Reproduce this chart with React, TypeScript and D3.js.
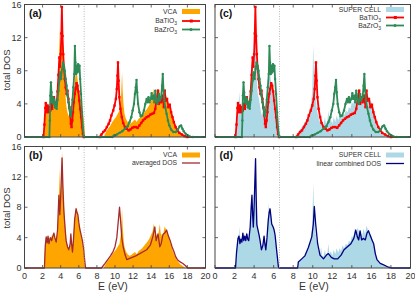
import * as d3 from "d3";

type Pt = [number, number];

// energy (eV), total DOS pairs
const vcaDos: Pt[] = [
  [0, 0], [2.15, 0], [2.25, 2.5], [2.35, 4.0], [2.5, 3.4], [2.6, 4.2], [2.7, 3.3], [2.8, 4.0], [2.9, 3.6],
  [3.0, 4.3], [3.1, 3.9], [3.25, 4.7], [3.35, 4.2], [3.5, 3.5], [3.6, 4.5], [3.7, 6.5], [3.8, 9.0],
  [3.88, 13.3], [3.95, 8.5], [4.05, 11.0], [4.15, 15.5], [4.22, 12.0], [4.3, 9.5], [4.4, 7.5], [4.5, 5.5],
  [4.6, 4.0], [4.7, 3.2], [4.85, 2.6], [5.0, 2.4], [5.1, 4.0], [5.2, 3.0], [5.3, 2.4], [5.4, 4.0],
  [5.5, 6.0], [5.6, 7.2], [5.7, 8.0], [5.8, 7.6], [5.9, 6.6], [6.0, 5.8], [6.1, 5.2], [6.2, 4.6],
  [6.3, 4.0], [6.4, 3.4], [6.5, 2.6], [6.6, 1.6], [6.7, 0],
  [8.75, 0], [8.9, 0.4], [9.1, 0.8], [9.3, 1.1], [9.5, 1.4], [9.7, 1.8], [9.9, 2.1], [10.1, 2.4],
  [10.3, 2.8], [10.5, 3.2], [10.65, 4.5], [10.78, 7.8], [10.85, 5.5], [10.95, 3.8], [11.05, 2.8],
  [11.2, 2.2], [11.4, 1.8], [11.6, 1.6], [11.8, 1.7], [12.0, 1.9], [12.2, 2.1], [12.4, 1.8], [12.6, 2.2],
  [12.8, 2.4], [13.0, 2.6], [13.2, 2.9], [13.4, 3.2], [13.6, 3.5], [13.8, 3.9], [14.0, 4.4], [14.15, 4.8],
  [14.3, 5.9], [14.4, 4.2], [14.5, 4.8], [14.65, 3.8], [14.8, 4.5], [14.95, 5.8], [15.05, 4.6],
  [15.2, 4.2], [15.35, 4.6], [15.5, 5.5], [15.65, 5.0], [15.8, 4.5], [15.95, 4.0], [16.1, 3.4],
  [16.25, 2.8], [16.4, 2.2], [16.6, 1.6], [16.8, 1.1], [17.0, 0.8], [17.2, 0.5], [17.5, 0.25],
  [17.8, 0], [20, 0],
];

const batio3Dos: Pt[] = [
  [0, 0], [2.1, 0], [2.2, 1.5], [2.3, 3.5], [2.35, 4.1], [2.45, 3.0], [2.55, 3.8], [2.65, 3.0],
  [2.75, 3.6], [2.85, 3.2], [2.95, 4.0], [3.05, 3.4], [3.15, 4.2], [3.25, 4.8], [3.35, 4.2], [3.45, 3.6],
  [3.55, 3.9], [3.65, 5.5], [3.75, 7.5], [3.85, 9.6], [3.92, 8.5], [4.0, 10.0], [4.07, 12.5],
  [4.13, 15.7], [4.2, 12.2], [4.28, 10.0], [4.36, 8.4], [4.45, 7.0], [4.55, 6.0], [4.65, 5.2],
  [4.75, 5.6], [4.85, 4.6], [4.95, 3.6], [5.05, 2.6], [5.12, 1.6], [5.2, 1.2], [5.28, 2.0], [5.36, 3.0],
  [5.45, 4.2], [5.55, 5.2], [5.65, 5.8], [5.75, 6.5], [5.85, 6.2], [5.95, 5.5], [6.05, 4.4],
  [6.15, 3.4], [6.25, 2.4], [6.35, 1.2], [6.45, 0.4], [6.55, 0],
  [8.3, 0], [8.5, 0.3], [8.7, 0.6], [8.9, 0.8], [9.1, 1.2], [9.3, 1.6], [9.45, 2.0], [9.6, 2.6],
  [9.8, 3.2], [9.95, 3.8], [10.1, 4.6], [10.2, 5.8], [10.27, 7.4], [10.33, 9.0], [10.4, 6.8],
  [10.48, 4.8], [10.6, 3.4], [10.75, 2.4], [10.9, 1.7], [11.1, 1.2], [11.3, 1.0], [11.5, 0.8],
  [11.7, 0.9], [11.9, 1.1], [12.1, 1.2], [12.3, 1.2], [12.5, 1.1], [12.7, 1.4], [12.9, 1.7], [13.1, 2.0],
  [13.3, 2.2], [13.5, 2.4], [13.7, 2.5], [13.9, 2.7], [14.1, 2.8], [14.3, 2.9], [14.45, 3.4],
  [14.6, 4.6], [14.75, 5.6], [14.85, 4.0], [14.95, 4.8], [15.1, 4.2], [15.25, 5.0], [15.4, 3.6],
  [15.5, 5.6], [15.6, 4.4], [15.75, 4.6], [15.9, 3.6], [16.05, 3.9], [16.2, 3.0], [16.35, 2.4],
  [16.5, 1.8], [16.7, 1.2], [16.9, 0.8], [17.1, 0.5], [17.4, 0.3], [17.7, 0.1], [18.0, 0], [20, 0],
];

const bazro3Dos: Pt[] = [
  [0, 0], [2.75, 0], [2.8, 2.0], [2.85, 5.0], [2.92, 6.6], [2.98, 5.4], [3.05, 4.2], [3.12, 4.8],
  [3.2, 4.0], [3.28, 4.6], [3.36, 3.6], [3.45, 4.2], [3.55, 3.4], [3.65, 4.5], [3.75, 5.6], [3.85, 6.8],
  [3.95, 7.8], [4.05, 7.0], [4.15, 8.2], [4.25, 9.0], [4.35, 8.6], [4.45, 8.0], [4.55, 7.0], [4.65, 6.2],
  [4.75, 5.0], [4.85, 4.2], [4.95, 3.5], [5.05, 2.8], [5.12, 2.5], [5.2, 3.2], [5.3, 4.5], [5.4, 6.0],
  [5.5, 7.6], [5.57, 11.0], [5.63, 9.0], [5.7, 7.6], [5.78, 8.6], [5.85, 7.8], [5.93, 8.8], [6.0, 8.0],
  [6.08, 8.6], [6.15, 7.0], [6.25, 5.2], [6.35, 3.0], [6.45, 1.2], [6.55, 0.2], [6.6, 0],
  [9.7, 0], [9.9, 0.2], [10.2, 0.3], [10.5, 0.5], [10.8, 0.7], [11.1, 1.0], [11.4, 1.3], [11.6, 1.8],
  [11.8, 2.4], [11.95, 3.2], [12.1, 4.0], [12.2, 5.2], [12.3, 6.0], [12.38, 6.9], [12.45, 5.4],
  [12.55, 4.0], [12.7, 3.0], [12.85, 2.5], [13.0, 2.6], [13.2, 3.2], [13.35, 4.0], [13.5, 4.6],
  [13.6, 4.2], [13.7, 4.8], [13.8, 4.2], [13.95, 4.6], [14.05, 5.3], [14.15, 4.6], [14.25, 5.0],
  [14.35, 4.2], [14.45, 5.6], [14.55, 4.6], [14.7, 4.0], [14.85, 5.2], [14.95, 4.4], [15.1, 4.8],
  [15.2, 6.2], [15.28, 7.6], [15.36, 5.6], [15.45, 4.4], [15.55, 3.6], [15.7, 2.8], [15.85, 2.0],
  [16.0, 1.4], [16.2, 0.9], [16.45, 0.6], [16.7, 0.6], [16.95, 0.9], [17.15, 1.3], [17.3, 1.4],
  [17.45, 1.0], [17.6, 0.7], [17.8, 0.4], [18.05, 0.2], [18.3, 0.05], [18.6, 0], [20, 0],
];

const averagedDos: Pt[] = [
  [0, 0], [2.2, 0], [2.3, 3.0], [2.4, 4.1], [2.5, 3.3], [2.6, 4.2], [2.7, 3.2], [2.85, 4.0], [3.0, 3.6],
  [3.1, 4.1], [3.25, 4.6], [3.35, 4.0], [3.5, 3.4], [3.65, 5.0], [3.8, 9.6], [3.9, 7.0], [4.0, 9.5],
  [4.15, 14.5], [4.25, 10.5], [4.35, 7.5], [4.5, 5.0], [4.6, 3.6], [4.75, 2.8], [4.9, 2.4], [5.05, 3.2],
  [5.12, 4.5], [5.22, 3.0], [5.3, 2.1], [5.4, 3.5], [5.55, 6.5], [5.7, 7.8], [5.8, 7.3], [5.9, 7.0],
  [6.0, 6.0], [6.1, 5.2], [6.25, 4.4], [6.4, 3.6], [6.55, 2.4], [6.65, 1.0], [6.75, 0],
  [8.5, 0], [8.7, 0.3], [8.9, 0.6], [9.2, 1.1], [9.5, 1.6], [9.8, 2.2], [10.0, 2.8], [10.2, 4.0],
  [10.35, 6.0], [10.5, 8.0], [10.6, 6.5], [10.75, 4.0], [10.9, 2.8], [11.1, 1.8], [11.3, 1.1],
  [12.3, 1.6], [13.5, 2.4], [13.9, 3.0], [14.2, 4.2], [14.4, 5.4], [14.55, 3.6], [14.75, 4.5],
  [14.95, 2.8], [15.1, 3.2], [15.3, 4.4], [15.5, 4.6], [15.7, 5.0], [15.9, 4.2], [16.1, 3.6],
  [16.3, 2.8], [16.5, 2.2], [16.7, 1.5], [16.9, 1.1], [17.2, 0.8], [17.5, 0.6], [17.8, 0.3],
  [18.0, 0], [20, 0],
];

const superCellDos: Pt[] = [
  [0, 0], [2.1, 0], [2.2, 2.0], [2.3, 3.5], [2.4, 3.8], [2.5, 5.5], [2.55, 3.6], [2.65, 4.2],
  [2.75, 3.4], [2.85, 4.4], [2.95, 3.8], [3.05, 4.6], [3.15, 3.6], [3.25, 4.8], [3.35, 4.0],
  [3.45, 3.6], [3.55, 4.6], [3.65, 6.0], [3.72, 9.2], [3.8, 8.0], [3.88, 6.0], [3.95, 7.5],
  [4.05, 10.5], [4.13, 14.0], [4.2, 10.0], [4.28, 7.0], [4.38, 5.2], [4.5, 4.6], [4.6, 3.8],
  [4.7, 3.0], [4.8, 2.6], [4.9, 3.2], [5.0, 4.2], [5.1, 3.0], [5.2, 2.6], [5.3, 3.5], [5.4, 5.5],
  [5.5, 8.6], [5.58, 7.0], [5.65, 7.6], [5.75, 6.4], [5.85, 5.8], [5.95, 5.4], [6.05, 4.8],
  [6.15, 4.0], [6.25, 3.0], [6.35, 2.0], [6.45, 0.8], [6.55, 0],
  [8.45, 0], [8.55, 0.6], [8.8, 1.1], [9.0, 1.4], [9.2, 1.8], [9.4, 2.2], [9.6, 2.8], [9.8, 3.8],
  [9.95, 5.5], [10.05, 11.2], [10.12, 8.0], [10.2, 6.5], [10.3, 4.5], [10.45, 3.2], [10.6, 2.2],
  [10.75, 1.8], [10.85, 2.8], [10.95, 1.6], [11.1, 1.5], [11.25, 2.4], [11.35, 1.6], [11.5, 2.0],
  [11.6, 3.2], [11.7, 1.8], [11.85, 2.2], [12.0, 1.6], [12.15, 2.4], [12.3, 1.8], [12.45, 2.6],
  [12.6, 2.0], [12.75, 2.6], [12.9, 2.2], [13.05, 3.0], [13.2, 2.6], [13.4, 3.2], [13.55, 3.0],
  [13.7, 3.6], [13.85, 3.4], [14.0, 4.2], [14.15, 4.0], [14.3, 5.2], [14.45, 4.4], [14.6, 5.4],
  [14.75, 4.6], [14.9, 5.0], [15.05, 4.2], [15.2, 5.2], [15.35, 4.4], [15.5, 5.6], [15.65, 5.0],
  [15.8, 4.6], [15.95, 4.4], [16.1, 3.8], [16.25, 3.2], [16.4, 2.2], [16.55, 1.2], [16.75, 0.7],
  [17.0, 0.45], [17.3, 0.25], [17.6, 0.1], [17.9, 0], [20, 0],
];

const linearCombinedDos: Pt[] = [
  [0, 0], [2.1, 0], [2.2, 2.0], [2.35, 3.9], [2.45, 4.2], [2.55, 3.2], [2.65, 3.8], [2.75, 3.4],
  [2.85, 4.6], [2.95, 3.6], [3.05, 4.2], [3.15, 3.6], [3.25, 4.5], [3.35, 3.8], [3.45, 3.6], [3.6, 5.4],
  [3.7, 8.0], [3.78, 9.6], [3.85, 7.0], [3.92, 5.4], [4.0, 8.0], [4.08, 11.5], [4.15, 14.4], [4.22, 9.0],
  [4.28, 5.7], [4.4, 5.0], [4.5, 4.4], [4.6, 3.7], [4.75, 2.4], [4.9, 3.0], [5.02, 4.2], [5.1, 3.2],
  [5.2, 2.4], [5.32, 4.0], [5.45, 6.3], [5.55, 7.4], [5.63, 7.8], [5.72, 6.8], [5.8, 5.8], [5.95, 5.4],
  [6.05, 5.0], [6.15, 4.3], [6.3, 2.4], [6.4, 1.2], [6.48, 0.2], [6.55, 0],
  [8.45, 0], [8.53, 0.8], [8.87, 1.2], [9.2, 1.6], [9.55, 2.7], [9.9, 4.1], [10.06, 5.8], [10.16, 8.1],
  [10.3, 5.8], [10.5, 3.2], [10.74, 1.7], [11.1, 1.2], [11.4, 1.7], [11.6, 1.9], [11.9, 1.4],
  [12.2, 1.2], [12.55, 1.2], [12.9, 1.7], [13.2, 2.4], [13.55, 2.8], [13.9, 3.2], [14.2, 3.9],
  [14.4, 5.0], [14.56, 4.1], [14.7, 3.7], [14.84, 4.9], [15.0, 3.7], [15.2, 3.9], [15.38, 3.7],
  [15.55, 4.6], [15.7, 4.9], [15.9, 4.2], [16.06, 3.7], [16.23, 3.2], [16.4, 1.9], [16.57, 1.1],
  [16.9, 0.6], [17.25, 0.4], [17.75, 0.1], [18.1, 0], [20, 0],
];

const energyTicks = [0, 2, 4, 6, 8, 10, 12, 14, 16, 18, 20];
const dosTicks = [0, 4, 8, 12, 16];
const gapMarker = 6.6;

const FONT = "'Liberation Sans', Arial, sans-serif";
const ORANGE = "#ffa500";
const LIGHTBLUE = "#add8e6";
const RED = "#ff0000";
const GREEN = "#2e8b57";
const BROWN = "#a52a2a";
const NAVY = "#000080";
const LEGEND_FS = 6.8;

type Scales = { x: d3.ScaleLinear<number, number>; y: d3.ScaleLinear<number, number> };

function Frame({ x, y, xLabels, yLabels, tag }: Scales & { xLabels: boolean; yLabels: boolean; tag: string }) {
  const [x0, x1] = x.range();
  const [y0, y1] = y.range();
  const tl = 3;
  return (
    <g>
      <line x1={x(gapMarker)} x2={x(gapMarker)} y1={y0} y2={y1} stroke="#aaa" strokeWidth={0.8} strokeDasharray="1,1.5" />
      {energyTicks.map((t) => (
        <g key={"x" + t}>
          <line x1={x(t)} x2={x(t)} y1={y0} y2={y0 - tl} stroke="#444" strokeWidth={0.8} />
          <line x1={x(t)} x2={x(t)} y1={y1} y2={y1 + tl} stroke="#444" strokeWidth={0.8} />
          {xLabels && (
            <text x={x(t)} y={y0 + 10.5} textAnchor="middle" fontSize={9} fill="#333">{t}</text>
          )}
        </g>
      ))}
      {dosTicks.map((t) => (
        <g key={"y" + t}>
          <line x1={x0} x2={x0 + tl} y1={y(t)} y2={y(t)} stroke="#444" strokeWidth={0.8} />
          <line x1={x1} x2={x1 - tl} y1={y(t)} y2={y(t)} stroke="#444" strokeWidth={0.8} />
          {yLabels && (
            <text x={x0 - 3} y={y(t) + 3} textAnchor="end" fontSize={9} fill="#333">{t}</text>
          )}
        </g>
      ))}
      <rect x={x0} y={y1} width={x1 - x0} height={y0 - y1} fill="none" stroke="#444" strokeWidth={1} />
      <text x={x0 + 4.5} y={y1 + 12.5} fontSize={10.5} fontWeight="bold" fill="#111">{tag}</text>
    </g>
  );
}

function Fill({ x, y, data, color }: Scales & { data: Pt[]; color: string }) {
  const area = d3.area<Pt>().x((d) => x(d[0])).y0(y(0)).y1((d) => y(d[1]));
  return <path d={area(data) ?? ""} fill={color} stroke="none" />;
}

function Curve({ x, y, data, color, width, marker }: Scales & { data: Pt[]; color: string; width: number; marker?: "square" | "dot" }) {
  const line = d3.line<Pt>().x((d) => x(d[0])).y((d) => y(d[1]));
  return (
    <g>
      <path d={line(data) ?? ""} fill="none" stroke={color} strokeWidth={width} strokeLinejoin="round" />
      {marker === "square" &&
        data.filter((d) => d[0] > 0 && d[0] < 20).map((d, i) => (
          <rect key={i} x={x(d[0]) - 1.2} y={y(d[1]) - 1.2} width={2.4} height={2.4} fill={color} />
        ))}
      {marker === "dot" &&
        data.filter((d) => d[0] > 0 && d[0] < 20).map((d, i) => (
          <circle key={i} cx={x(d[0])} cy={y(d[1])} r={1.2} fill={color} />
        ))}
    </g>
  );
}

function LegendRow({ right, y, label, kind, color }: { right: number; y: number; label: React.ReactNode; kind: "fill" | "line" | "square" | "dot"; color: string }) {
  const sx = right + 5;
  return (
    <g>
      <text x={right} y={y + 2.4} textAnchor="end" fontSize={LEGEND_FS} fill="#333">{label}</text>
      {kind === "fill" ? (
        <rect x={sx} y={y - 2.5} width={18} height={5} fill={color} />
      ) : (
        <line x1={sx} x2={sx + 18} y1={y} y2={y} stroke={color} strokeWidth={kind === "line" ? 1.3 : 1.8} />
      )}
      {kind === "square" && <rect x={sx + 7.8} y={y - 1.5} width={3} height={3} fill={color} />}
      {kind === "dot" && <circle cx={sx + 9} cy={y} r={1.5} fill={color} />}
    </g>
  );
}

const sub = (base: string, s: string) => (
  <>
    {base}
    <tspan fontSize={5} dy={1.8}>{s}</tspan>
  </>
);

export default function App() {
  const xLeft = d3.scaleLinear().domain([0, 20]).range([24.5, 205.5]);
  const xRight = d3.scaleLinear().domain([0, 20]).range([215, 410.5]);
  const yTop = d3.scaleLinear().domain([0, 16]).range([137, 4.5]);
  const yBottom = d3.scaleLinear().domain([0, 16]).range([268, 146.5]);

  return (
    <div style={{ position: "fixed", left: 0, top: 0 }}>
      <svg width={415} height={293} style={{ display: "block", fontFamily: FONT }}>
        <rect width={415} height={293} fill="#fff" />

        {/* (a) */}
        <Fill x={xLeft} y={yTop} data={vcaDos} color={ORANGE} />
        <Curve x={xLeft} y={yTop} data={batio3Dos} color={RED} width={1.8} marker="square" />
        <Curve x={xLeft} y={yTop} data={bazro3Dos} color={GREEN} width={1.8} marker="dot" />
        <Frame x={xLeft} y={yTop} xLabels={false} yLabels={true} tag="(a)" />
        <LegendRow right={177} y={11.5} label="VCA" kind="fill" color={ORANGE} />
        <LegendRow right={177} y={21} label={sub("BaTiO", "3")} kind="square" color={RED} />
        <LegendRow right={177} y={29.5} label={sub("BaZrO", "3")} kind="dot" color={GREEN} />

        {/* (b) */}
        <Fill x={xLeft} y={yBottom} data={vcaDos} color={ORANGE} />
        <Curve x={xLeft} y={yBottom} data={averagedDos} color={BROWN} width={1.3} />
        <Frame x={xLeft} y={yBottom} xLabels={true} yLabels={true} tag="(b)" />
        <LegendRow right={177} y={155} label="VCA" kind="fill" color={ORANGE} />
        <LegendRow right={177} y={163} label="averaged DOS" kind="line" color={BROWN} />

        {/* (c) */}
        <Fill x={xRight} y={yTop} data={superCellDos} color={LIGHTBLUE} />
        <Curve x={xRight} y={yTop} data={batio3Dos} color={RED} width={1.8} marker="square" />
        <Curve x={xRight} y={yTop} data={bazro3Dos} color={GREEN} width={1.8} marker="dot" />
        <Frame x={xRight} y={yTop} xLabels={false} yLabels={false} tag="(c)" />
        <LegendRow right={381} y={9.5} label="SUPER CELL" kind="fill" color={LIGHTBLUE} />
        <LegendRow right={381} y={17.5} label={sub("BaTiO", "3")} kind="square" color={RED} />
        <LegendRow right={381} y={25.5} label={sub("BaZrO", "3")} kind="dot" color={GREEN} />

        {/* (d) */}
        <Fill x={xRight} y={yBottom} data={superCellDos} color={LIGHTBLUE} />
        <Curve x={xRight} y={yBottom} data={linearCombinedDos} color={NAVY} width={1.3} />
        <Frame x={xRight} y={yBottom} xLabels={true} yLabels={false} tag="(d)" />
        <LegendRow right={381} y={155} label="SUPER CELL" kind="fill" color={LIGHTBLUE} />
        <LegendRow right={381} y={163.5} label="linear combined DOS" kind="line" color={NAVY} />

        {/* axis titles */}
        <text transform="translate(10,70) rotate(-90)" textAnchor="middle" fontSize={9.5} fill="#333">total DOS</text>
        <text transform="translate(10,208) rotate(-90)" textAnchor="middle" fontSize={9.5} fill="#333">total DOS</text>
        <text x={113} y={290} textAnchor="middle" fontSize={10.5} fill="#333">E (eV)</text>
        <text x={314} y={290} textAnchor="middle" fontSize={10.5} fill="#333">E (eV)</text>
      </svg>
    </div>
  );
}
